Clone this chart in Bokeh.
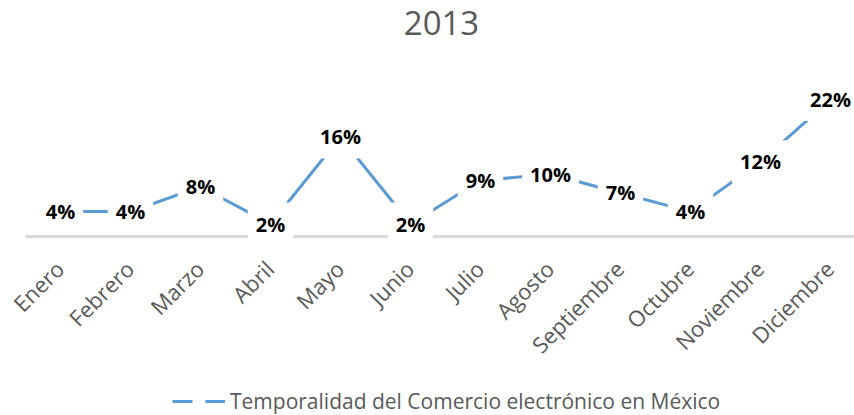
from bokeh.plotting import figure
from bokeh.models import (Range1d, ColumnDataSource, Legend, LegendItem,
                          Label, LabelSet)
from bokeh.core.properties import value
from bokeh.embed import file_html
from bokeh.resources import INLINE
import numpy as np
import math

months = ["Enero", "Febrero", "Marzo", "Abril", "Mayo", "Junio", "Julio",
          "Agosto", "Septiembre", "Octubre", "Noviembre", "Diciembre"]
values = [4, 4, 8, 2, 16, 2, 9, 10, 7, 4, 12, 22]
series_name = "Temporalidad del Comercio electrónico en México"
title_text = "2013"

xs = list(range(len(months)))
labels = [f"{v}%" for v in values]
src = ColumnDataSource(dict(x=xs, y=values, lab=labels))
cat_src = ColumnDataSource(dict(x=xs, y=[0] * len(xs), name=months))

BLUE = "#5B9BD5"
GRAY = "#595959"
FONT = "Open Sans"

p = figure(width=854, height=415, output_backend="svg", toolbar_location=None,
           x_range=Range1d(-0.857, 11.343), y_range=Range1d(-28.77, 37.93),
           x_axis_location=None, y_axis_location=None,
           min_border_left=0, min_border_right=0, min_border_top=0,
           min_border_bottom=0,
           outline_line_color=None, background_fill_color="white",
           border_fill_color="white")
p.grid.visible = False

# category axis line spanning the category bands
p.segment(x0=[-0.5], y0=[0], x1=[len(months) - 0.5], y1=[0],
          line_color="#D9D9D9", line_width=3)

# category labels
p.add_layout(LabelSet(x="x", y="y", text="name", source=cat_src,
                      angle=math.pi / 4, text_align="right",
                      text_baseline="middle", x_offset=-1, y_offset=-28,
                      text_font=value(FONT), text_font_size="22px",
                      text_color=GRAY))

line = p.line("x", "y", source=src, line_color=BLUE, line_width=3)

p.text("x", "y", text="lab", source=src, text_align="center",
       text_baseline="middle", text_font=value(FONT), text_font_size="20px",
       text_font_style="bold", text_color="black",
       background_fill_color="white", padding=8)

p.add_layout(Label(x=441, y=393, x_units="screen", y_units="screen",
                   text=title_text, text_align="center",
                   text_baseline="middle", text_font=FONT,
                   text_font_size="33px", text_color=GRAY))

legend_src = ColumnDataSource(dict(x=np.array([np.nan]), y=np.array([np.nan])))
dummy = p.line("x", "y", source=legend_src, line_color=BLUE, line_width=3,
               line_dash="20 13")
legend = Legend(items=[LegendItem(label=series_name, renderers=[dummy])],
                location=(172, 0), orientation="horizontal",
                label_text_font=FONT, label_text_font_size="21px",
                label_text_color=GRAY, glyph_width=53, label_standoff=5,
                border_line_color=None, background_fill_alpha=0,
                margin=0, padding=0)
p.add_layout(legend, "center")

open("out.html", "w").write(file_html(p, INLINE))
